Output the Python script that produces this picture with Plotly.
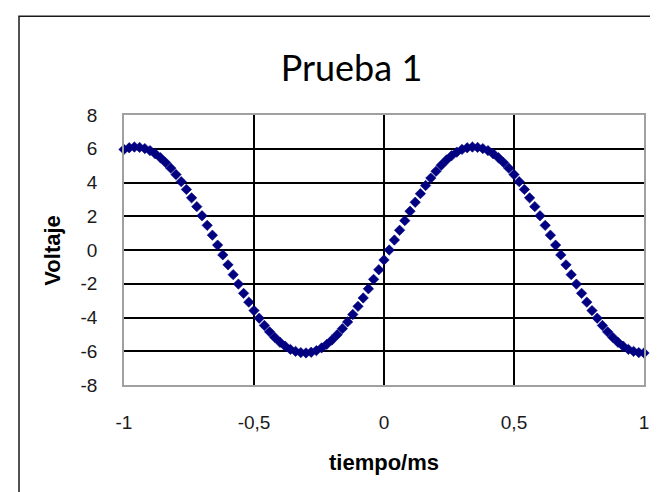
import plotly.graph_objects as go

tiempo = [-1.00, -0.98, -0.96, -0.94, -0.92, -0.90, -0.88, -0.86, -0.84, -0.82,
          -0.80, -0.78, -0.76, -0.74, -0.72, -0.70, -0.68, -0.66, -0.64, -0.62,
          -0.60, -0.58, -0.56, -0.54, -0.52, -0.50, -0.48, -0.46, -0.44, -0.42,
          -0.40, -0.38, -0.36, -0.34, -0.32, -0.30, -0.28, -0.26, -0.24, -0.22,
          -0.20, -0.18, -0.16, -0.14, -0.12, -0.10, -0.08, -0.06, -0.04, -0.02,
          0.00, 0.02, 0.04, 0.06, 0.08, 0.10, 0.12, 0.14, 0.16, 0.18,
          0.20, 0.22, 0.24, 0.26, 0.28, 0.30, 0.32, 0.34, 0.36, 0.38,
          0.40, 0.42, 0.44, 0.46, 0.48, 0.50, 0.52, 0.54, 0.56, 0.58,
          0.60, 0.62, 0.64, 0.66, 0.68, 0.70, 0.72, 0.74, 0.76, 0.78,
          0.80, 0.82, 0.84, 0.86, 0.88, 0.90, 0.92, 0.94, 0.96, 0.98, 1.00]

voltaje = [5.96, 6.06, 6.10, 6.08, 6.01, 5.89, 5.70, 5.47, 5.18, 4.85,
           4.47, 4.05, 3.59, 3.09, 2.57, 2.03, 1.46, 0.88, 0.29, -0.29,
           -0.88, -1.46, -2.02, -2.57, -3.09, -3.59, -4.04, -4.47, -4.85, -5.18,
           -5.47, -5.70, -5.89, -6.01, -6.08, -6.10, -6.06, -5.96, -5.80, -5.59,
           -5.33, -5.02, -4.66, -4.26, -3.82, -3.34, -2.84, -2.30, -1.74, -1.17,
           -0.59, 0.00, 0.59, 1.17, 1.74, 2.30, 2.83, 3.34, 3.82, 4.26,
           4.66, 5.02, 5.33, 5.59, 5.80, 5.96, 6.06, 6.10, 6.08, 6.01,
           5.89, 5.70, 5.47, 5.18, 4.85, 4.47, 4.05, 3.59, 3.09, 2.57,
           2.03, 1.46, 0.88, 0.29, -0.29, -0.88, -1.46, -2.02, -2.57, -3.09,
           -3.59, -4.04, -4.47, -4.85, -5.18, -5.47, -5.70, -5.89, -6.01, -6.08, -6.10]

x_ticks = [-1, -0.5, 0, 0.5, 1]
x_tick_labels = ["-1", "-0,5", "0", "0,5", "1"]
y_ticks = [-8, -6, -4, -2, 0, 2, 4, 6, 8]
y_tick_labels = ["-8", "-6", "-4", "-2", "0", "2", "4", "6", "8"]

fig = go.Figure()
fig.add_trace(go.Scatter(
    x=tiempo, y=voltaje, mode="markers",
    marker=dict(symbol="diamond", size=8, color="#000080",
                line=dict(width=0.6, color="#000080")),
    showlegend=False, cliponaxis=False,
))

tickfont = dict(family="Liberation Sans, Arial, sans-serif", size=19, color="#1a1a1a")

fig.update_layout(
    width=658, height=492,
    margin=dict(l=116, r=22, t=107, b=115),
    paper_bgcolor="white", plot_bgcolor="white",
    title=dict(text="Prueba 1", x=0.522, xref="container", xanchor="center",
               y=1 - 60 / 492, yref="container", yanchor="middle",
               font=dict(family="Lato, Open Sans, sans-serif", size=36, color="#000")),
    xaxis=dict(range=[-1, 1], tickvals=x_ticks, ticktext=x_tick_labels,
               showgrid=True, gridcolor="#000", gridwidth=1.5,
               zeroline=False, showline=True, mirror=True,
               linecolor="#a0a0a0", linewidth=1.5, ticks="",
               ticklabelstandoff=19, tickfont=tickfont),
    yaxis=dict(range=[-8, 8], tickvals=y_ticks, ticktext=y_tick_labels,
               showgrid=True, gridcolor="#000", gridwidth=1.5,
               zeroline=False, showline=True, mirror=True,
               linecolor="#a0a0a0", linewidth=1.5, ticks="",
               ticklabelstandoff=21, tickfont=tickfont),
    xaxis2=dict(range=[-1, 1], overlaying="x", anchor="free", position=0.5,
                side="bottom", dtick=0.5, tick0=-1, showgrid=False, zeroline=False,
                showline=True, linecolor="#000", linewidth=1.5,
                ticks="outside", ticklen=7, tickwidth=1.5, tickcolor="#000",
                showticklabels=False),
    yaxis2=dict(range=[-8, 8], overlaying="y", anchor="free", position=0.5,
                side="left", dtick=2, tick0=-8, showgrid=False, zeroline=False,
                showline=True, linecolor="#000", linewidth=1.5,
                ticks="outside", ticklen=7, tickwidth=1.5, tickcolor="#000",
                showticklabels=False),
    annotations=[
        dict(text="<b>Voltaje</b>", xref="paper", yref="paper",
             x=(43.7 - 116) / 520, y=0.5, textangle=-90, showarrow=False,
             xanchor="center", yanchor="middle",
             font=dict(family="Liberation Sans, Arial, sans-serif", size=22, color="#000")),
        dict(text="<b>tiempo/ms</b>", xref="paper", yref="paper",
             x=0.5, y=(377 - 454) / 270, showarrow=False,
             xanchor="center", yanchor="middle",
             font=dict(family="Liberation Sans, Arial, sans-serif", size=22, color="#000")),
    ],
    shapes=[
        dict(type="rect", xref="paper", yref="paper",
             x0=(11 - 116) / 520, x1=1.3, y0=-0.8, y1=(377 - 8.3) / 270,
             line=dict(color="#1a1a1a", width=1.5), layer="below"),
    ],
)

fig.write_html("out.html")
